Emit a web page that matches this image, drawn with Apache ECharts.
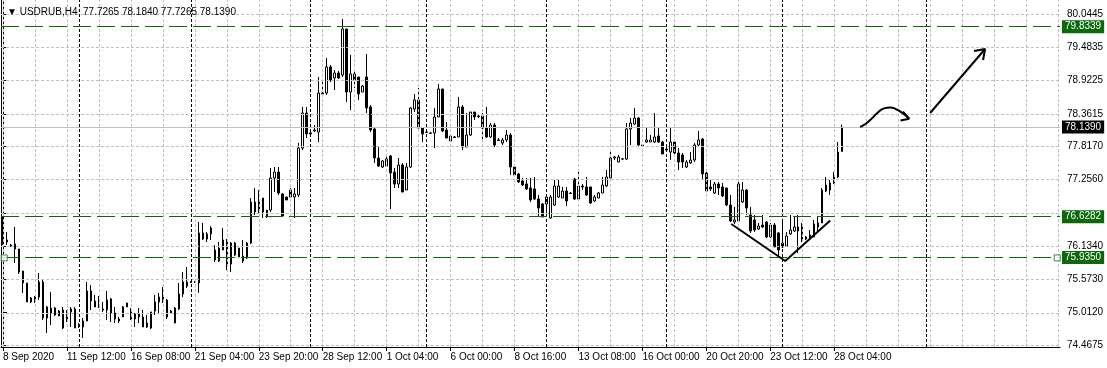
<!DOCTYPE html>
<html><head><meta charset="utf-8">
<script src="https://cdn.jsdelivr.net/npm/echarts@6/dist/echarts.min.js"></script>
<style>html,body{margin:0;padding:0;background:#fff}#c{width:1107px;height:368px}</style>
</head><body><div id="c"></div>
<script>
const symbolTitle = '▼ USDRUB,H4  77.7265 78.1840 77.7265 78.1390';
const opens = [76.590,76.237,76.152,76.169,76.085,75.714,75.512,75.192,75.276,75.276,
75.529,74.922,75.091,74.973,74.956,75.057,74.872,75.024,75.074,74.804,
74.771,74.872,75.377,75.209,75.142,75.074,75.057,75.243,75.007,74.906,
74.939,75.108,75.057,74.906,74.990,74.939,74.838,74.754,75.040,75.192,
75.276,75.226,75.007,74.838,75.074,75.327,75.529,75.529,75.529,75.512,
76.355,76.253,76.338,76.068,75.883,76.068,76.237,75.832,76.186,75.950,
75.883,75.933,76.186,76.877,76.708,76.944,76.624,76.742,77.281,77.382,
77.012,76.961,77.079,76.961,76.995,77.787,78.376,78.040,78.073,78.056,
78.697,78.713,79.152,78.966,79.050,79.017,79.792,78.730,79.034,78.983,
78.730,78.983,78.478,78.107,77.618,77.467,77.483,77.652,77.382,77.180,
77.500,77.079,77.467,78.444,78.596,78.124,78.056,78.040,78.040,78.309,
78.781,78.090,77.905,77.972,77.972,78.478,77.804,78.006,78.393,78.326,
78.326,78.124,77.972,78.174,77.922,77.871,77.922,78.006,77.467,77.349,
77.231,77.180,77.113,77.096,76.927,76.843,76.843,76.607,76.826,76.961,
76.944,77.062,77.028,77.264,76.927,77.146,77.130,77.130,76.894,76.944,
77.028,77.146,77.281,77.618,77.551,77.601,77.601,78.107,78.191,78.292,
77.837,77.888,77.888,77.888,77.989,77.888,77.770,77.719,77.888,77.703,
77.669,77.467,77.534,77.584,77.837,77.938,77.365,77.130,77.028,77.180,
77.130,77.113,76.826,76.540,76.557,76.877,77.079,76.658,76.574,76.422,
76.489,76.540,76.287,76.489,76.355,76.119,76.135,76.338,76.388,76.456,
76.220,76.287,76.321,76.287,76.456,76.523,77.062,77.079,77.197,77.298,
77.7265];
const highs = [76.624,76.371,76.169,76.456,76.085,75.714,75.512,75.276,75.293,75.681,
75.563,75.125,75.361,75.108,75.057,75.108,75.057,75.108,75.108,74.838,
74.922,75.529,75.478,75.310,75.293,75.192,75.377,75.260,75.108,74.939,
75.125,75.175,75.091,75.007,75.091,75.057,74.973,75.024,75.310,75.344,
75.445,75.243,75.057,75.108,75.512,75.697,75.782,75.546,75.546,76.540,
76.523,76.371,76.472,76.152,76.203,76.439,76.253,76.203,76.203,76.102,
76.237,76.203,76.944,77.113,77.079,76.944,76.742,77.450,77.467,77.467,
77.028,76.961,77.113,77.113,77.871,78.478,78.478,78.056,78.174,78.983,
78.932,79.303,79.185,79.101,79.084,79.960,79.792,79.354,79.101,78.983,
78.848,79.371,78.511,78.124,77.821,77.584,77.652,77.669,77.450,77.618,
77.534,77.534,78.478,78.697,78.798,78.124,78.073,78.056,78.461,78.865,
78.781,78.225,77.989,77.989,78.646,78.511,78.376,78.393,78.393,78.343,
78.376,78.478,78.208,78.208,77.955,77.955,78.090,78.040,77.467,77.365,
77.281,77.281,77.281,77.298,76.995,76.860,76.961,76.995,77.248,77.248,
77.130,77.130,77.045,77.281,77.416,77.180,77.298,77.130,76.995,77.045,
77.298,77.416,77.719,77.652,77.669,77.618,78.208,78.292,78.461,78.309,
77.837,78.141,78.006,78.376,78.141,77.905,77.804,78.124,77.888,77.787,
77.703,77.584,77.719,77.871,78.073,77.955,77.382,77.248,77.214,77.214,
77.197,77.113,76.995,76.793,77.214,77.214,77.096,76.793,76.658,76.523,
76.658,76.557,76.523,76.523,76.371,76.540,76.371,76.658,76.624,76.658,
76.523,76.304,76.405,76.574,76.624,77.113,77.298,77.248,77.382,77.888,
78.1840];
const lows = [76.152,76.152,76.119,75.849,75.664,75.344,75.192,75.175,75.175,75.226,
74.889,74.670,74.804,74.956,74.956,74.737,74.855,74.771,74.754,74.754,
74.585,74.872,75.057,75.108,75.091,75.024,74.889,74.855,74.838,74.838,
74.939,75.108,74.889,74.771,74.838,74.771,74.754,74.737,74.973,75.007,
75.175,74.906,75.007,74.838,75.057,75.276,75.428,75.512,75.512,75.344,
76.237,76.203,76.237,75.866,75.866,76.068,75.731,75.697,75.967,75.950,
75.849,75.916,76.169,76.658,76.691,76.607,76.607,76.708,77.045,76.995,
76.624,76.911,76.961,76.607,76.961,77.753,77.955,78.006,78.056,77.888,
78.680,78.680,78.899,78.764,78.949,78.983,78.562,78.427,78.798,78.596,
78.730,78.376,78.056,77.534,77.467,77.450,77.483,76.759,77.113,77.113,
77.045,77.079,77.450,78.393,78.124,77.888,78.040,78.023,77.787,78.309,
78.056,77.955,77.905,77.955,77.972,77.753,77.804,77.989,78.259,78.292,
77.922,77.955,77.955,77.804,77.905,77.837,77.888,77.332,77.298,77.197,
77.146,77.079,76.877,76.911,76.624,76.624,76.624,76.590,76.809,76.944,
76.944,76.809,77.012,76.911,76.911,77.079,76.978,76.843,76.877,76.944,
77.028,77.130,77.281,77.584,77.551,77.584,77.584,77.837,78.174,77.821,
77.804,77.871,77.888,77.871,77.871,77.686,77.736,77.584,77.686,77.416,
77.450,77.450,77.517,77.551,77.821,77.264,77.062,77.062,77.012,76.995,
76.961,76.809,76.540,76.506,76.540,76.860,76.658,76.355,76.371,76.405,
76.439,76.270,76.270,76.119,75.950,76.102,76.119,76.321,76.371,76.018,
76.203,76.237,76.270,76.287,76.355,76.523,77.045,76.995,77.180,77.281,
77.7265];
const closes = [76.203,76.203,76.135,76.085,75.697,75.512,75.192,75.260,75.243,75.529,
74.922,75.108,75.007,75.091,75.040,74.754,75.007,75.074,74.754,74.788,
74.872,75.377,75.209,75.108,75.108,75.057,75.226,75.007,74.906,74.872,
75.108,75.175,74.906,74.990,74.939,74.771,74.771,75.024,75.192,75.276,
75.209,74.939,75.040,75.091,75.327,75.529,75.462,75.520,75.535,76.355,
76.253,76.338,76.439,75.900,76.102,76.237,75.815,76.186,75.984,76.102,
75.967,76.186,76.877,76.708,76.894,76.708,76.742,77.281,77.382,77.028,
76.641,76.911,76.961,77.012,77.787,78.376,78.023,78.023,78.090,78.713,
78.713,79.152,78.932,79.050,78.966,79.792,78.730,79.034,78.932,78.697,
78.831,78.461,78.090,77.618,77.483,77.568,77.601,77.365,77.180,77.500,
77.045,77.467,78.461,78.596,78.124,78.023,78.050,78.035,78.309,78.781,
78.073,77.955,77.989,77.965,78.478,77.804,78.006,78.393,78.309,78.315,
78.124,77.972,78.174,77.837,77.915,77.922,78.006,77.467,77.332,77.214,
77.163,77.096,76.911,76.927,76.776,76.624,76.961,76.961,77.146,77.146,
77.062,76.894,77.020,76.927,77.146,77.130,76.995,76.860,76.961,77.028,
77.163,77.298,77.618,77.635,77.635,77.605,78.107,78.208,78.292,77.837,
77.821,77.922,77.922,77.972,77.888,77.686,77.753,77.888,77.703,77.551,
77.551,77.551,77.584,77.837,77.922,77.349,77.062,77.096,77.180,77.113,
76.978,76.826,76.557,76.574,77.180,77.079,76.776,76.388,76.405,76.472,
76.456,76.287,76.489,76.119,76.068,76.186,76.304,76.405,76.456,76.388,
76.456,76.253,76.287,76.506,76.523,77.079,77.163,77.197,77.298,77.719,
78.1390];
const tickLabels = ['8 Sep 2020','11 Sep 12:00','16 Sep 08:00','21 Sep 04:00','23 Sep 20:00','28 Sep 12:00','1 Oct 04:00','6 Oct 00:00','8 Oct 16:00','13 Oct 08:00','16 Oct 00:00','20 Oct 20:00','23 Oct 12:00','28 Oct 04:00'];
const priceTicks = [80.0445,79.4835,78.9225,78.3615,77.8170,77.2560,76.6950,76.1340,75.5730,75.0120,74.4675];
const priceLabels = [80.0445,79.4835,78.9225,78.3615,77.8170,77.2560,76.1340,75.5730,75.0120,74.4675];
const levels = [79.8339,76.6282,75.9350];
const bidPrice = 78.1390;
const separatorBars = [19,47,77,106,136,166,195,231];
const anchorPoints = [[0.3,75.935],[263.8,75.935]];
const vTrend = [[182.25,76.506],[195.75,75.883],[207,76.565]];
const curveArrow = [[214.5,78.141],[216,78.200],[217.5,78.290],[219,78.390],[220.5,78.455],[222,78.470],[223.5,78.440],[225,78.380],[226.75,78.280]];
const curveHead = [[225.2,78.400],[226.75,78.280],[224.6,78.250]];
const straightArrow = [[232,78.376],[245.75,79.455]];
const straightHead = [[243,79.421],[245.75,79.455],[245.25,79.270]];

const totalBars = 265;
const labelStep = 16, gridStep = 8;
const font = 'Liberation Sans';
const fs = 10;
const cats = Array.from({length: totalBars}, (_, i) => i);
const labelIdx = tickLabels.map((_, k) => k * labelStep);
const gridIdx = []; for (let v = 0; v < totalBars; v += gridStep) gridIdx.push(v);
const GREEN = '#0b690b';

const chart = echarts.init(document.getElementById('c'), null, {renderer: 'canvas'});
const yMin = 74.4337, yMax = 80.2804;
const lineSeries = (data, extra) => Object.assign({
  type: 'line', xAxisIndex: 1, yAxisIndex: 0, data, symbol: 'none', silent: true,
  lineStyle: {color: '#000', width: 2}, z: 6, animation: false
}, extra || {});
const boxLabel = (v, bg) => ({yAxis: v, label: {formatter: v.toFixed(4), backgroundColor: bg}});

chart.setOption({
  animation: false,
  backgroundColor: '#fff',
  title: {text: symbolTitle, left: 2, top: 2, textStyle: {fontSize: fs, fontWeight: 'normal', color: '#000', fontFamily: font}},
  grid: {left: 1, right: 47, top: 0, bottom: 21, containLabel: false},
  xAxis: [
    {type: 'category', data: cats, boundaryGap: true, show: false},
    {type: 'value', min: -0.5, max: totalBars - 0.5, position: 'bottom',
     axisLine: {show: true, onZero: false, lineStyle: {color: '#000', width: 1}},
     axisTick: {show: true, customValues: labelIdx, length: 4, lineStyle: {color: '#000'}},
     axisLabel: {customValues: labelIdx, formatter: v => tickLabels[Math.round(v / labelStep)], align: 'left', margin: 5, color: '#000', fontSize: fs, fontFamily: font},
     splitLine: {show: false}}
  ],
  yAxis: [
    {type: 'value', position: 'right', min: yMin, max: yMax,
     axisLine: {show: true, lineStyle: {color: '#000'}},
     axisTick: {show: true, customValues: priceTicks, length: 4, lineStyle: {color: '#000'}},
     axisLabel: {customValues: priceLabels, formatter: v => v.toFixed(4), margin: 7, color: '#000', fontSize: fs, fontFamily: font},
     splitLine: {show: false}},
    {type: 'value', position: 'left', min: yMin, max: yMax,
     axisLine: {show: true, lineStyle: {color: '#000'}}, axisTick: {show: false}, axisLabel: {show: false}, splitLine: {show: false}}
  ],
  series: [
    {type: 'line', xAxisIndex: 1, yAxisIndex: 0, data: [], silent: true, z: 0,
     markLine: {silent: true, symbol: ['none', 'none'], animation: false, label: {show: false},
       lineStyle: {color: '#c0c0c0', type: [3, 2], width: 1},
       data: gridIdx.map(v => ({xAxis: v})).concat(priceTicks.map(v => ({yAxis: v})))}},
    {type: 'line', xAxisIndex: 1, yAxisIndex: 0, data: [], silent: true, z: 1,
     markLine: {silent: true, symbol: ['none', 'none'], animation: false, label: {show: false},
       lineStyle: {color: '#000', type: [3, 2], width: 1},
       data: separatorBars.map(v => ({xAxis: v}))}},
    {type: 'line', xAxisIndex: 1, yAxisIndex: 0, data: [], silent: true, z: 1,
     markLine: {silent: true, symbol: ['none', 'none'], animation: false,
       lineStyle: {color: '#c0c0c0', type: 'solid', width: 1},
       label: {show: true, position: 'end', distance: 2, color: '#fff', padding: [2, 3, 1, 3], fontSize: fs, fontFamily: font},
       data: [boxLabel(bidPrice, '#000')]}},
    {type: 'candlestick', xAxisIndex: 0, yAxisIndex: 0, z: 3, barWidth: 2,
     data: opens.map((o, i) => [o, closes[i], lows[i], highs[i]]),
     itemStyle: {color: '#fff', color0: '#000', borderColor: '#000', borderColor0: '#000', borderWidth: 1}},
    {type: 'line', xAxisIndex: 1, yAxisIndex: 0, data: [], silent: true, z: 5,
     markLine: {silent: true, symbol: ['none', 'none'], animation: false,
       lineStyle: {color: GREEN, type: [18, 6], width: 1},
       label: {show: true, position: 'end', distance: 2, color: '#fff', padding: [2, 3, 1, 3], fontSize: fs, fontFamily: font},
       data: levels.map(v => boxLabel(v, GREEN))}},
    {type: 'scatter', xAxisIndex: 1, yAxisIndex: 0, data: anchorPoints, symbol: 'rect', symbolSize: 6, silent: true, z: 7,
     itemStyle: {color: '#fff', borderColor: GREEN, borderWidth: 1}},
    lineSeries(vTrend),
    lineSeries(curveArrow, {smooth: true}),
    lineSeries(curveHead),
    lineSeries(straightArrow),
    lineSeries(straightHead)
  ]
});
</script></body></html>
